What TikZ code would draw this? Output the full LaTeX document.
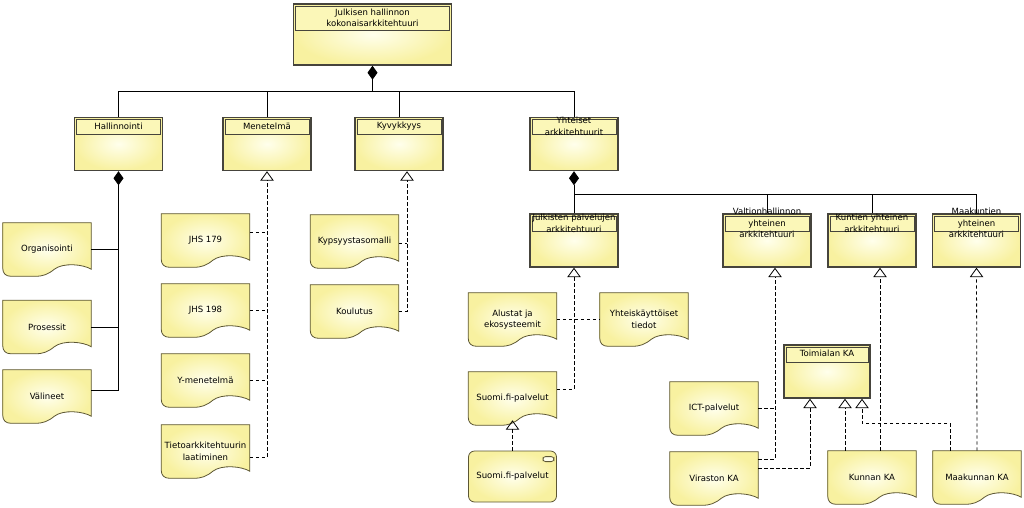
\documentclass[tikz,border=0pt]{standalone}
\usepackage{fontspec}
\setmainfont{DejaVu Sans}
\usetikzlibrary{calc, arrows.meta, backgrounds}

\definecolor{boxlight}{RGB}{255,255,236}
\definecolor{boxdark}{RGB}{248,241,160}
\definecolor{bandfill}{RGB}{251,247,184}
\definecolor{boxline}{RGB}{70,68,60}
\definecolor{docline}{RGB}{92,86,52}

% document symbol with wavy bottom, drawn round a named node
\newcommand{\docshape}[1]{%
  \path[docbody] (#1.north west) -- (#1.north east)
    -- ($(#1.south east)+(0,-7)$)
    .. controls ($(#1.south east)+(-8,-12)$) and ($(#1.south east)+(-28,-14)$) .. ($(#1.south east)+(-37,-7)$)
    .. controls ($(#1.south east)+(-43,-2)$) and ($(#1.south east)+(-48,0)$) .. ($(#1.south east)+(-56,0)$)
    -- ($(#1.south west)+(8,0)$)
    .. controls ($(#1.south west)+(3,0)$) and ($(#1.south west)+(0,-3)$) .. ($(#1.south west)+(0,-8)$)
    -- cycle;}

\tikzset{
  lbl/.style={font=\fontsize{6.4pt}{8.6pt}\selectfont, align=center, inner sep=0.5pt},
  archbox/.style={rectangle, draw=boxline, line width=1.1pt, shade, inner color=boxlight, outer color=boxdark,
    minimum width=66pt, minimum height=39.75pt, inner sep=0pt,
    path picture={\draw[fill=bandfill, draw=boxline, line width=0.6pt]
      ([xshift=1.5pt,yshift=-1.5pt]path picture bounding box.north west) rectangle
      ([xshift=-1.5pt,yshift=-#1]path picture bounding box.north east);}},
  archbox/.default=12.75pt,
  doc/.style={lbl, rectangle, minimum width=66pt, minimum height=39.75pt},
  docbody/.style={draw=docline, line width=0.6pt, shade, inner color=boxlight, outer color=boxdark},
  svcbox/.style={lbl, rectangle, rounded corners=4.5pt, draw=docline, line width=0.6pt, shade,
    inner color=boxlight, outer color=boxdark, minimum width=66pt, minimum height=38.25pt},
  conn/.style={draw=black, line width=0.6pt},
  dep/.style={conn, dash pattern=on 2.5pt off 2pt},
  real/.style={dep, -{Triangle[open, length=7pt, width=10pt]}},
  comp/.style={conn, -{Diamond[length=10.5pt, width=7.5pt]}},
}

\begin{document}
\begin{tikzpicture}[x=0.75pt,y=0.75pt,yscale=-1]
\path[use as bounding box] (0,0) rectangle (1024,507);

% top level
\node[archbox=19.5pt, minimum width=118.5pt, minimum height=45.75pt] (kok) at (372.5,34.5) {};
\node[lbl] (kok-l) at ($(kok.north)+(0,14.5)$) {Julkisen hallinnon\\kokonaisarkkitehtuuri};

% second level
\node[archbox] (hall) at (118.5,144) {};
\node[lbl] (hall-l) at ($(hall.north)+(0,9.5)$) {Hallinnointi};
\node[archbox] (menet) at (267,144) {};
\node[lbl] (menet-l) at ($(menet.north)+(0,9.5)$) {Menetelmä};
\node[archbox] (kyv) at (399,144) {};
\node[lbl] (kyv-l) at ($(kyv.north)+(0,9.5)$) {Kyvykkyys};
\node[archbox] (yht) at (574,144) {};
\node[lbl] (yht-l) at ($(yht.north)+(0,9.5)$) {Yhteiset\\arkkitehtuurit};

% third level
\node[archbox] (julk) at (574,240.5) {};
\node[lbl] (julk-l) at ($(julk.north)+(0,10)$) {Julkisten palvelujen\\arkkitehtuuri};
\node[archbox] (valt) at (767,240.5) {};
\node[lbl] (valt-l) at ($(valt.north)+(0,10)$) {Valtionhallinnon\\yhteinen\\arkkitehtuuri};
\node[archbox] (kunt) at (872,240.5) {};
\node[lbl] (kunt-l) at ($(kunt.north)+(0,10)$) {Kuntien yhteinen\\arkkitehtuuri};
\node[archbox] (maakt) at (976.5,240.5) {};
\node[lbl] (maakt-l) at ($(maakt.north)+(0,10)$) {Maakuntien\\yhteinen\\arkkitehtuuri};
\node[archbox, minimum width=64.5pt] (toim) at (827,371.5) {};
\node[lbl] (toim-l) at ($(toim.north)+(0,9.5)$) {Toimialan KA};

% documents
\node[doc] (orgs) at (47,249.5) {Organisointi};
\node[doc] (pros) at (47,327) {Prosessit};
\node[doc] (valin) at (47,396.5) {Välineet};
\node[doc] (jhs179) at (205.5,240.5) {JHS 179};
\node[doc] (jhs198) at (205.5,310.5) {JHS 198};
\node[doc] (ymen) at (205.5,380.5) {Y-menetelmä};
\node[doc] (tieto) at (205.5,451.5) {Tietoarkkitehtuurin\\laatiminen};
\node[doc] (kyp) at (354.5,241.5) {Kypsyystasomalli};
\node[doc] (koul) at (354.5,311.5) {Koulutus};
\node[doc] (alus) at (512.5,319.5) {Alustat ja\\ekosysteemit};
\node[doc] (yhtk) at (644,319.5) {Yhteiskäyttöiset\\tiedot};
\node[doc] (sdoc) at (512.5,398.5) {Suomi.fi-palvelut};
\node[doc] (ict) at (714,408.5) {ICT-palvelut};
\node[doc] (vir) at (714,478.5) {Viraston KA};
\node[doc] (kunnan) at (872,477.5) {Kunnan KA};
\node[doc] (maak) at (977,477.5) {Maakunnan KA};

% service
\node[svcbox] (svc) at (512.5,476.5) {Suomi.fi-palvelut};
\draw[draw=docline, fill=boxlight, line width=0.6pt, rounded corners=2pt]
  ($(svc.north east)+(-14,6)$) rectangle ($(svc.north east)+(-3,11)$);

\begin{scope}[on background layer]
\docshape{orgs}
\docshape{pros}
\docshape{valin}
\docshape{jhs179}
\docshape{jhs198}
\docshape{ymen}
\docshape{tieto}
\docshape{kyp}
\docshape{koul}
\docshape{alus}
\docshape{yhtk}
\docshape{sdoc}
\docshape{ict}
\docshape{vir}
\docshape{kunnan}
\docshape{maak}
\end{scope}

% composition to the top
\coordinate (kok-j) at ($(kok.south)+(0,26)$);
\draw[comp] (hall.north) |- (kok-j) -- (kok.south);
\draw[conn] (yht.north) |- (kok-j);
\draw[conn] (menet.north) -- (menet.north |- kok-j);
\draw[conn] (kyv.north) -- (kyv.north |- kok-j);

% Hallinnointi
\coordinate (valin-c) at ($(valin.east)+(0,-6)$);
\draw[comp] (valin-c) -| (hall.south);
\draw[conn] (orgs.east) -- (orgs.east -| hall.south);
\draw[conn] (pros.east) -- (pros.east -| hall.south);

% Menetelmä
\coordinate (tieto-c) at ($(tieto.east)+(0,6)$);
\coordinate (jhs179-c) at ($(jhs179.east)+(0,-8)$);
\draw[real] (tieto-c) -| (menet.south);
\draw[dep] (jhs179-c) -- (jhs179-c -| menet.south);
\draw[dep] (jhs198.east) -- (jhs198.east -| menet.south);
\draw[dep] (ymen.east) -- (ymen.east -| menet.south);

% Kyvykkyys
\coordinate (kyv-t) at ($(kyv.south)+(8,0)$);
\coordinate (kyp-c) at ($(kyp.east)+(0,2)$);
\draw[real] (koul.east) -| (kyv-t);
\draw[dep] (kyp-c) -- (kyp-c -| kyv-t);

% Yhteiset arkkitehtuurit
\coordinate (yht-j) at ($(yht.south)+(0,23)$);
\draw[comp] (julk.north) -- (yht.south);
\draw[conn] (maakt.north) |- (yht-j);
\draw[conn] (valt.north) -- (valt.north |- yht-j);
\draw[conn] (kunt.north) -- (kunt.north |- yht-j);

% Julkisten palvelujen arkkitehtuuri
\coordinate (sdoc-c) at ($(sdoc.east)+(0,-9)$);
\coordinate (sdoc-t) at ($(sdoc.south)+(0,-5)$);
\draw[real] (sdoc-c) -| (julk.south);
\draw[dep] (alus.east) -- (yhtk.west);
\draw[real] (svc.north) -- (sdoc-t);

% Valtionhallinnon yhteinen arkkitehtuuri
\coordinate (valt-t) at ($(valt.south)+(8,0)$);
\coordinate (vir-c1) at ($(vir.east)+(0,-19.5)$);
\coordinate (vir-c2) at ($(vir.east)+(0,-10.5)$);
\draw[real] (vir-c1) -| (valt-t);
\draw[dep] (ict.east) -- (ict.east -| valt-t);

% Toimialan KA
\coordinate (toim-t1) at ($(toim.south)+(-17,0)$);
\coordinate (toim-t2) at ($(toim.south)+(18,0)$);
\coordinate (toim-t3) at ($(toim.south)+(35,0)$);
\coordinate (maak-c) at ($(maak.north)+(-27,0)$);
\draw[real] (vir-c2) -| (toim-t1);
\draw[real] (kunnan.north -| toim-t2) -- (toim-t2);
\draw[real] (maak-c) -- ++(0,-27) -| (toim-t3);

% Kuntien ja Maakuntien
\coordinate (kunt-t) at ($(kunt.south)+(8,0)$);
\draw[real] (kunnan.north -| kunt-t) -- (kunt-t);
\draw[real] (maak.north) -- (maakt.south);

\end{tikzpicture}
\end{document}
